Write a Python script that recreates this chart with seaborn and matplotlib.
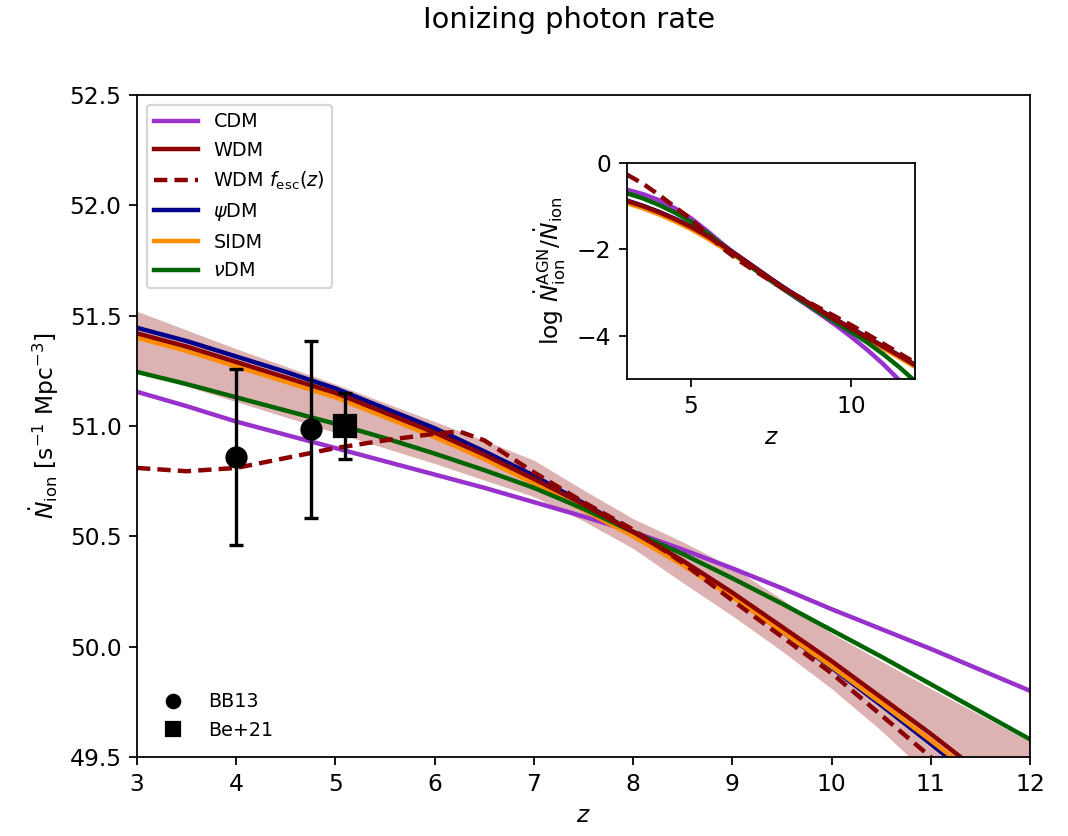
import numpy as np
import pandas as pd
import matplotlib
matplotlib.use("Agg")
import matplotlib.pyplot as plt
import seaborn as sns
from matplotlib.lines import Line2D

# ---------------- data ----------------
z_main = [3.0, 3.5, 4.0, 4.5, 5.0, 5.5, 6.0, 6.5, 7.0, 7.5, 8.0, 8.5, 9.0, 9.5,
          10.0, 10.5, 11.0, 11.5, 12.0]
cdm = [51.155, 51.09, 51.02, 50.96, 50.90, 50.84, 50.78, 50.72, 50.655, 50.59,
       50.52, 50.44, 50.355, 50.265, 50.17, 50.08, 49.99, 49.895, 49.80]
wdm = [51.42, 51.36, 51.29, 51.22, 51.15, 51.06, 50.97, 50.87, 50.76, 50.645,
       50.52, 50.39, 50.245, 50.09, 49.935, 49.77, 49.605, 49.43, 49.25]
psidm = [51.445, 51.385, 51.315, 51.245, 51.17, 51.08, 50.99, 50.885, 50.775, 50.65,
         50.52, 50.38, 50.23, 50.07, 49.905, 49.735, 49.56, 49.38, 49.19]
sidm = [51.40, 51.34, 51.27, 51.20, 51.13, 51.04, 50.95, 50.85, 50.74, 50.62,
        50.50, 50.37, 50.225, 50.07, 49.91, 49.745, 49.575, 49.40, 49.22]
nudm = [51.245, 51.19, 51.13, 51.07, 51.01, 50.945, 50.875, 50.80, 50.72, 50.625,
        50.52, 50.42, 50.31, 50.195, 50.075, 49.955, 49.83, 49.705, 49.58]
z_fesc = [3.0, 3.5, 4.0, 4.5, 5.0, 5.5, 6.0, 6.25, 6.5, 7.0, 7.5, 8.0, 8.5, 9.0,
          9.5, 10.0, 10.5, 11.0, 11.5, 12.0]
wdm_fesc = [50.81, 50.795, 50.81, 50.855, 50.90, 50.935, 50.965, 50.975, 50.935,
            50.79, 50.655, 50.53, 50.38, 50.21, 50.045, 49.88, 49.69, 49.50, 49.30, 49.10]
band_upper = [51.52, 51.435, 51.35, 51.27, 51.19, 51.105, 51.02, 50.935, 50.845, 50.71,
              50.58, 50.475, 50.36, 50.215, 50.06, 49.935, 49.81, 49.69, 49.57]
band_lower = [51.25, 51.18, 51.11, 51.04, 50.97, 50.90, 50.83, 50.755, 50.68, 50.57,
              50.445, 50.29, 50.14, 49.98, 49.81, 49.62, 49.41, 49.18, 48.95]

bb13_z = [4.0, 4.75]
bb13_y = [50.86, 50.985]
bb13_err = [0.40, 0.40]
be21_z = [5.1]
be21_y = [51.0]
be21_err = [0.15]

# inset: log Ndot_AGN / Ndot_ion
z_inset = [3.0, 3.5, 4.0, 4.5, 5.0, 5.5, 6.0, 6.5, 7.0, 7.5, 8.0, 8.5, 9.0, 9.5,
           10.0, 10.5, 11.0, 11.5, 12.0]
in_cdm = [-0.62, -0.72, -0.86, -1.05, -1.28, -1.57, -1.88, -2.18, -2.47, -2.73,
          -2.98, -3.23, -3.48, -3.74, -4.02, -4.32, -4.65, -5.02, -5.40]
in_wdm = [-0.88, -1.00, -1.14, -1.30, -1.48, -1.69, -1.92, -2.17, -2.43, -2.69,
          -2.94, -3.17, -3.40, -3.62, -3.83, -4.04, -4.25, -4.46, -4.68]
in_fesc = [-0.27, -0.48, -0.74, -1.02, -1.30, -1.64, -1.98, -2.26, -2.50, -2.73,
           -2.95, -3.15, -3.35, -3.55, -3.75, -3.96, -4.18, -4.40, -4.62]
in_psidm = [-0.87, -0.99, -1.13, -1.29, -1.47, -1.68, -1.91, -2.16, -2.42, -2.68,
            -2.93, -3.16, -3.39, -3.61, -3.82, -4.03, -4.24, -4.45, -4.67]
in_sidm = [-0.93, -1.05, -1.19, -1.35, -1.53, -1.74, -1.97, -2.21, -2.46, -2.71,
           -2.96, -3.19, -3.42, -3.64, -3.86, -4.07, -4.29, -4.50, -4.72]
in_nudm = [-0.70, -0.82, -0.97, -1.15, -1.36, -1.62, -1.91, -2.19, -2.47, -2.72,
           -2.97, -3.21, -3.45, -3.68, -3.91, -4.15, -4.42, -4.72, -5.05]

x_ticks = [3, 4, 5, 6, 7, 8, 9, 10, 11, 12]
y_ticks = [49.5, 50.0, 50.5, 51.0, 51.5, 52.0, 52.5]

colors = {"CDM": "darkorchid", "WDM": "darkred", "psiDM": "darkblue",
          "SIDM": "darkorange", "nuDM": "darkgreen"}
labels = {"CDM": "CDM", "WDM": "WDM", "fesc": r"WDM $f_{\rm esc}(z)$",
          "psiDM": r"$\psi$DM", "SIDM": "SIDM", "nuDM": r"$\nu$DM"}

# ---------------- figure ----------------
DPI = 160
fig = plt.figure(figsize=(1068 / DPI, 836 / DPI), dpi=DPI)
ax = fig.add_axes([137 / 1068, 1 - 757 / 836, (1030 - 137) / 1068, (757 - 95) / 836])

LW = 2.0
DASH = (3.0, 1.6)
ax.fill_between(z_main, band_lower, band_upper, color="darkred", alpha=0.3, lw=0)

main_series = [("CDM", cdm), ("psiDM", psidm), ("SIDM", sidm), ("nuDM", nudm), ("WDM", wdm)]
for key, vals in main_series:
    sns.lineplot(x=z_main, y=vals, ax=ax, color=colors[key], lw=LW, legend=False)
sns.lineplot(x=z_fesc, y=wdm_fesc, ax=ax, color="darkred", lw=LW, legend=False)
ax.lines[-1].set_dashes(DASH)

ax.errorbar(bb13_z, bb13_y, yerr=bb13_err, fmt="o", color="k", ms=9,
            elinewidth=1.5, capsize=3.0, capthick=1.5)
ax.errorbar(be21_z, be21_y, yerr=be21_err, fmt="s", color="k", ms=9.5,
            elinewidth=1.5, capsize=3.0, capthick=1.5)

ax.set_xlim(3, 12)
ax.set_ylim(49.5, 52.5)
ax.set_xticks(x_ticks)
ax.set_yticks(y_ticks)
ax.tick_params(labelsize=10.5)
ax.set_xlabel(r"$z$", fontsize=10.5)
ax.set_ylabel(r"$\dot{N}_{\rm ion}$ [s$^{-1}$ Mpc$^{-3}$]", fontsize=10.5)

# legends
order = ["CDM", "WDM", "fesc", "psiDM", "SIDM", "nuDM"]
handles = []
for k in order:
    if k == "fesc":
        h = Line2D([], [], color="darkred", lw=LW, dashes=DASH)
    else:
        h = Line2D([], [], color=colors[k], lw=LW)
    handles.append(h)
leg1 = ax.legend(handles, [labels[k] for k in order], loc="upper left", fontsize=8.6,
                 handlelength=2.3)
ax.add_artist(leg1)

h_bb = Line2D([], [], ls="none", marker="o", color="k", ms=6)
h_be = Line2D([], [], ls="none", marker="s", color="k", ms=6)
ax.legend([h_bb, h_be], ["BB13", "Be+21"], loc="lower left", fontsize=8.6, frameon=False)

# inset
axin = fig.add_axes([627 / 1068, 1 - 379 / 836, (915 - 627) / 1068, (379 - 163) / 836])
inset_series = [("CDM", in_cdm), ("psiDM", in_psidm), ("SIDM", in_sidm),
                ("nuDM", in_nudm), ("WDM", in_wdm)]
for key, vals in inset_series:
    sns.lineplot(x=z_inset, y=vals, ax=axin, color=colors[key], lw=LW, legend=False)
sns.lineplot(x=z_inset, y=in_fesc, ax=axin, color="darkred", lw=LW, legend=False)
axin.lines[-1].set_dashes(DASH)
axin.set_xlim(3, 12)
axin.set_ylim(-5, 0)
axin.set_xticks([5, 10])
axin.set_yticks([0, -2, -4])
axin.tick_params(labelsize=10.5)
axin.set_xlabel(r"$z$", fontsize=10.5)
axin.set_ylabel(r"$\log\,\dot{N}_{\rm ion}^{\rm AGN}/\dot{N}_{\rm ion}$", fontsize=10.5)

fig.text(0.533, 0.976, "Ionizing photon rate", ha="center", va="center", fontsize=13)

fig.savefig("out.png", dpi=DPI)
